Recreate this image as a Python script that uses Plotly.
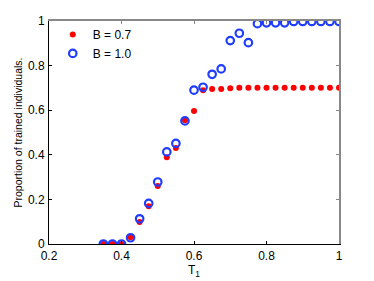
import plotly.graph_objects as go

t1 = [0.35, 0.375, 0.4, 0.425, 0.45, 0.475, 0.5, 0.525, 0.55, 0.575, 0.6, 0.625,
      0.65, 0.675, 0.7, 0.725, 0.75, 0.775, 0.8, 0.825, 0.85, 0.875, 0.9, 0.925,
      0.95, 0.975, 1.0]
b07 = [0.0, 0.0, 0.0, 0.03, 0.099, 0.169, 0.26, 0.389, 0.43, 0.555, 0.596, 0.689,
       0.695, 0.695, 0.698, 0.701, 0.701, 0.701, 0.701, 0.701, 0.701, 0.701, 0.701, 0.701,
       0.701, 0.701, 0.701]
b10 = [0.0, 0.0, 0.0, 0.028, 0.113, 0.182, 0.278, 0.413, 0.451, 0.552, 0.69, 0.703,
       0.761, 0.785, 0.912, 0.945, 0.903, 0.988, 0.992, 0.992, 0.992, 0.998, 0.998, 0.998,
       0.998, 0.998, 0.998]
xticks = [0.2, 0.4, 0.6, 0.8, 1.0]
xticklabels = ["0.2", "0.4", "0.6", "0.8", "1"]
yticks = [0, 0.2, 0.4, 0.6, 0.8, 1.0]
yticklabels = ["0", "0.2", "0.4", "0.6", "0.8", "1"]

FONT = "Liberation Sans, Arial, sans-serif"

fig = go.Figure()
fig.add_trace(go.Scatter(x=t1, y=b07, mode="markers", name="B = 0.7",
                         marker=dict(symbol="circle", size=6, color="#ff0000")))
fig.add_trace(go.Scatter(x=t1, y=b10, mode="markers", name="B = 1.0",
                         marker=dict(symbol="circle-open", size=7.5, color="#1f3dff",
                                     line=dict(width=2.2, color="#1f3dff"))))

fig.update_layout(
    width=374, height=281,
    margin=dict(l=49, r=35, t=21, b=37),
    paper_bgcolor="white", plot_bgcolor="white",
    font=dict(family=FONT, size=12, color="black"),
    showlegend=True,
    legend=dict(x=0.013, y=1.005, xanchor="left", yanchor="top",
                bgcolor="rgba(0,0,0,0)", font=dict(size=12),
                itemwidth=30, tracegroupgap=0),
    xaxis=dict(range=[0.2, 1.0], tickvals=xticks, ticktext=xticklabels,
               showgrid=False, zeroline=False, showline=True, linecolor="black",
               linewidth=1, ticks="inside", ticklen=3, tickcolor="black",
               automargin=False, ticklabelstandoff=1,
               title=dict(text="T<sub>1</sub>", standoff=2, font=dict(size=12))),
    yaxis=dict(range=[0, 1.0], tickvals=yticks, ticktext=yticklabels,
               showgrid=False, zeroline=False, showline=True, linecolor="black",
               linewidth=1, ticks="inside", ticklen=3, tickcolor="black",
               automargin=False, ticklabelstandoff=1,
               title=dict(text="Proportion of trained individuals.", standoff=3,
                          font=dict(size=10.5))),
    xaxis2=dict(range=[0.2, 1.0], tickvals=xticks, overlaying="x", side="top",
                showticklabels=False, showgrid=False, zeroline=False, showline=True,
                linecolor="#888888", linewidth=1.5, ticks="inside", ticklen=3,
                tickcolor="#888888", automargin=False),
    yaxis2=dict(range=[0, 1.0], tickvals=yticks, overlaying="y", side="right",
                showticklabels=False, showgrid=False, zeroline=False, showline=True,
                linecolor="#888888", linewidth=1.5, ticks="inside", ticklen=3,
                tickcolor="#888888", automargin=False),
)
fig.add_trace(go.Scatter(x=[None], y=[None], xaxis="x2", yaxis="y2",
                         showlegend=False, hoverinfo="skip"))

fig.write_html("out.html", config={"displayModeBar": False},
               post_script="document.body.style.margin='0px';document.body.style.overflow='hidden';")
